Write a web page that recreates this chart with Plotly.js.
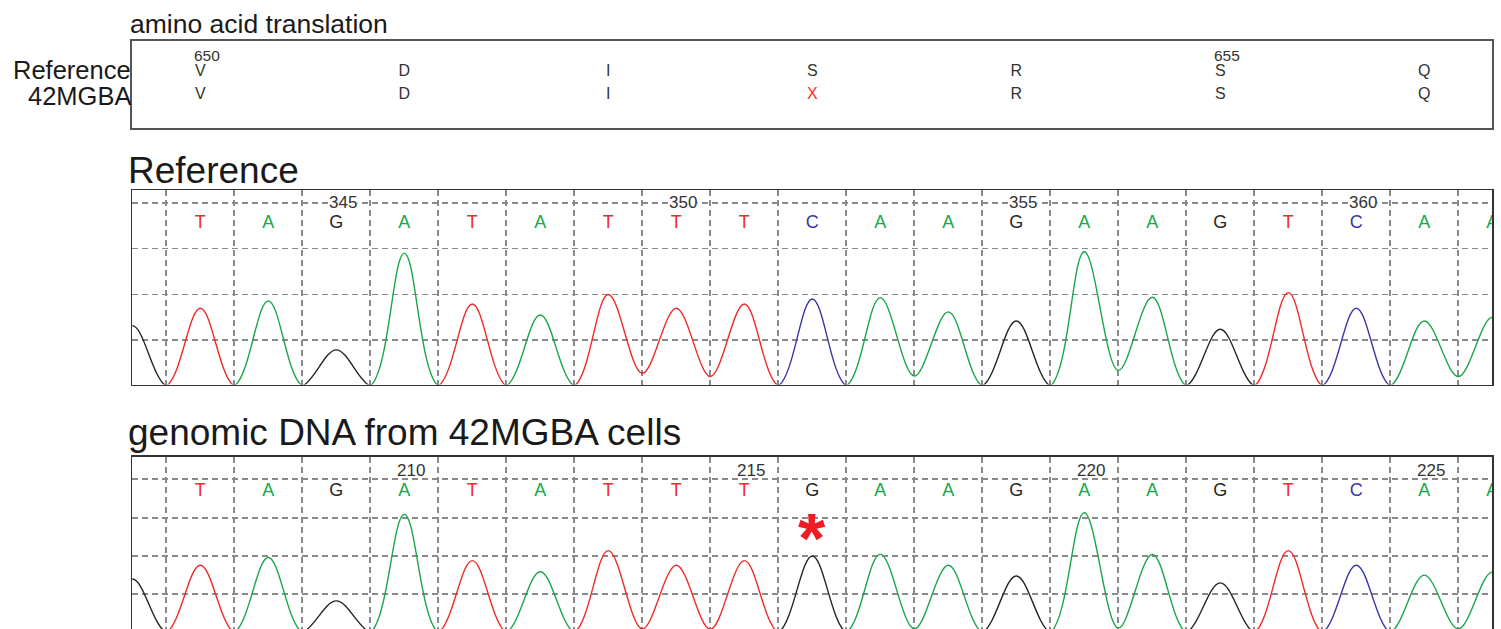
<!DOCTYPE html>
<html><head><meta charset="utf-8">
<script src="https://cdn.plot.ly/plotly-3.0.1.min.js"></script>
<style>html,body{margin:0;padding:0;overflow:hidden;background:#fff}</style>
</head><body><div id="chart" style="width:1501px;height:640px"></div>
<script>
// ---------------- data ----------------
const aaRef = ['V','D','I','S','R','S','Q'];
const aaMut = ['V','D','I','X','R','S','Q'];
const aaNumLabels = ['650','655'];
const aaNumCodon = [0,5];

const refBases = ['T','A','G','A','T','A','T','T','T','C','A','A','G','A','A','G','T','C','A','A'];
const refPeaks = [1.70,1.86,0.79,2.90,1.79,1.55,2.00,1.70,1.79,1.90,1.93,1.62,1.42,2.93,1.94,1.24,2.04,1.70,1.42,1.50];
const refLeadBase = 'G';
const refLeadPeak = 1.32;
const refTroughs = [0,0,0,0,0,0,0,0.28,0.21,0,0,0.22,0,0,0.34,0,0,0,0,0.21];
const refNumLabels = ['345','350','355','360'];
const refNumPos = [2,7,12,17];

const genBases = ['T','A','G','A','T','A','T','T','T','G','A','A','G','A','A','G','T','C','A','A'];
const genPeaks = [1.76,1.96,0.83,3.09,1.88,1.59,2.14,1.76,1.88,2.00,2.05,1.76,1.48,3.13,2.04,1.30,2.14,1.76,1.50,1.58];
const genLeadBase = 'G';
const genLeadPeak = 1.40;
const genTroughs = [0,0,0,0,0,0,0,0.10,0.09,0,0,0.10,0,0,0.12,0,0,0,0,0.10];
const genNumLabels = ['210','215','220','225'];
const genNumPos = [3,8,13,18];

// ---------------- styling ----------------
const W = 1501, H = 640;
const py = p => 1 - p / H;
const FONT = 'Arial, "Liberation Sans", sans-serif';
const COL = {A:'#1aa64a', C:'#3838a8', G:'#262626', T:'#ee2b2b'};
const XDOM = [132.3 / W, 1492.3 / W];

function channelTrace(bases, peaks, troughs, leadBase, leadPeak, ch, xa, ya) {
  const all = [leadBase].concat(bases);
  const pk = [leadPeak].concat(peaks);
  const x = [-1.5], y = [0];
  for (let k = 0; k < all.length; k++) {
    const pos = k - 1;
    x.push(pos); y.push(all[k] === ch ? pk[k] : 0);
    if (k < all.length - 1) {
      x.push(pos + 0.5);
      y.push(all[k] === ch && all[k + 1] === ch ? troughs[k] : 0);
    }
  }
  x.push(all.length - 1.5); y.push(0);
  return {type:'scatter', mode:'lines', x, y, xaxis:xa, yaxis:ya, hoverinfo:'skip',
    line:{color:COL[ch], width:1.4, shape:'spline', smoothing:1}, showlegend:false};
}
function letterTrace(bases, yv, xa, ya) {
  return {type:'scatter', mode:'text', x:bases.map((b,i)=>i), y:bases.map(()=>yv),
    text:bases, textposition:'middle center', xaxis:xa, yaxis:ya, hoverinfo:'skip', showlegend:false,
    textfont:{family:FONT, size:18, color:bases.map(b=>COL[b])}};
}

const traces = [];
['G','T','A','C'].forEach(ch => {
  traces.push(channelTrace(refBases, refPeaks, refTroughs, refLeadBase, refLeadPeak, ch, 'x2', 'y2'));
  traces.push(channelTrace(genBases, genPeaks, genTroughs, genLeadBase, genLeadPeak, ch, 'x3', 'y3'));
});
traces.push(letterTrace(refBases, 3.55, 'x2', 'y2'));
traces.push(letterTrace(genBases, 3.68, 'x3', 'y3'));

// amino acid rows
const aaX = aaRef.map((a,i)=>i*3);
traces.push({type:'scatter', mode:'text', x:aaX, y:aaRef.map(()=>0.636), text:aaRef, xaxis:'x', yaxis:'y',
  hoverinfo:'skip', showlegend:false, textfont:{family:FONT, size:16, color:'#333'}});
traces.push({type:'scatter', mode:'text', x:aaX, y:aaMut.map(()=>0.37), text:aaMut, xaxis:'x', yaxis:'y',
  hoverinfo:'skip', showlegend:false,
  textfont:{family:FONT, size:16, color:aaMut.map((a,i)=>a===aaRef[i]?'#333':'#ff2a2a')}});

const annotations = [];
aaNumLabels.forEach((t,i)=>annotations.push({xref:'x', yref:'y', x:aaNumCodon[i]*3, y:0.83, text:t,
  showarrow:false, xanchor:'left', yanchor:'middle', xshift:-7, borderpad:0,
  font:{family:FONT, size:15.5, color:'#333'}}));
refNumLabels.forEach((t,i)=>annotations.push({xref:'x2', yref:'y2', x:refNumPos[i], y:4, text:t,
  showarrow:false, xanchor:'left', yanchor:'middle', xshift:-8, bgcolor:'#fff', borderpad:0,
  font:{family:FONT, size:17, color:'#333'}}));
genNumLabels.forEach((t,i)=>annotations.push({xref:'x3', yref:'y3', x:genNumPos[i], y:4.24, text:t,
  showarrow:false, xanchor:'left', yanchor:'middle', xshift:-8, borderpad:0,
  font:{family:FONT, size:17, color:'#333'}}));
// mutation marker
const mutIdx = genBases.findIndex((b,i)=>b!==refBases[i]);
annotations.push({xref:'x3', yref:'y3', x:mutIdx, y:2.81, text:'<b>*</b>', showarrow:false,
  xanchor:'center', yanchor:'middle', yshift:-14, font:{family:FONT, size:70, color:'#f01c24'}});
// titles / labels
const lab = (t, xpx, ypx, anchor, size) => ({xref:'paper', yref:'paper', x:xpx/W, y:py(ypx), text:t,
  showarrow:false, xanchor:anchor, yanchor:'middle', borderpad:0, font:{family:FONT, size, color:'#1a1a1a'}});
annotations.push(lab('amino acid translation', 129, 23.5, 'left', 26.5));
annotations.push(lab('Reference', 132, 69.5, 'right', 25.5));
annotations.push(lab('42MGBA', 132, 96, 'right', 25.5));
annotations.push(lab('Reference', 127, 170, 'left', 37));
annotations.push(lab('genomic DNA from 42MGBA cells', 127, 432, 'left', 37));

const bounds = refBases.slice(0, 19).map((b,i)=>i + 0.5);
bounds.unshift(-0.5);
const GRID = {gridcolor:'#8a8a8a', gridwidth:1.8, griddash:'6px,4px'};
const gridX = () => Object.assign({domain:XDOM, range:[-1,19], tickvals:bounds, showticklabels:false, ticks:'',
  showgrid:true, zeroline:false,
  showline:true, mirror:true, linecolor:'#333', linewidth:1.5, fixedrange:true}, GRID);
const gridY = (dom, rng) => Object.assign({domain:dom, range:rng, tickvals:[1,2,3,4], showticklabels:false, ticks:'',
  showgrid:true, zeroline:false,
  showline:true, mirror:true, linecolor:'#333', linewidth:1.5, fixedrange:true}, GRID);

const layout = {
  width:W, height:H, margin:{l:0,r:0,t:0,b:0}, paper_bgcolor:'#fff', plot_bgcolor:'#fff',
  showlegend:false, annotations,
  xaxis:{domain:XDOM, range:[-1,19], showgrid:false, zeroline:false, showticklabels:false, ticks:'',
    showline:true, mirror:true, linecolor:'#555', linewidth:2, anchor:'y'},
  yaxis:{domain:[py(127.7), py(40.7)], range:[0,1], showgrid:false, zeroline:false, showticklabels:false,
    ticks:'', showline:true, mirror:true, linecolor:'#555', linewidth:2, anchor:'x'},
  xaxis2:Object.assign(gridX(), {anchor:'y2'}),
  yaxis2:Object.assign(gridY([py(384.5), py(190)], [0.036, 4.277]), {anchor:'x2'}),
  xaxis3:Object.assign(gridX(), {anchor:'y3'}),
  yaxis3:Object.assign(gridY([py(631.3), py(456.7)], [0.036, 4.59]), {anchor:'x3'})
};
Plotly.newPlot('chart', traces, layout, {staticPlot:true, displayModeBar:false});
</script></body></html>
